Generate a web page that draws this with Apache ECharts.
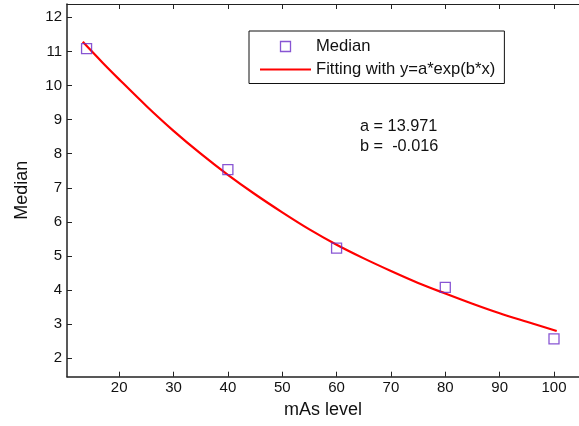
<!DOCTYPE html>
<html>
<head>
<meta charset="utf-8">
<script src="https://cdn.jsdelivr.net/npm/echarts@6/dist/echarts.min.js"></script>
<style>
html,body{margin:0;padding:0;background:#fff;}
#chart{width:579px;height:426px;}
</style>
</head>
<body>
<div id="chart"></div>
<script>
// Data
var medianX = [14, 40, 60, 80, 100];
var medianY = [11.08, 7.53, 5.23, 4.08, 2.57];
var fitX = [13.3, 17, 20, 25, 30, 35, 40, 45, 50, 55, 60, 65, 70, 75, 80, 85, 90, 95, 100.5];
var fitY = [11.28, 10.66, 10.18, 9.40, 8.67, 8.00, 7.38, 6.81, 6.28, 5.78, 5.33, 4.93, 4.56, 4.21, 3.90, 3.60, 3.32, 3.07, 2.80];
var xTicks = [20, 30, 40, 50, 60, 70, 80, 90, 100];
var yTicks = [2, 3, 4, 5, 6, 7, 8, 9, 10, 11, 12];
var seriesNames = ['Median', 'Fitting with y=a*exp(b*x)'];
var xName = 'mAs level';
var yName = 'Median';
var annotation = ['a = 13.971', 'b =  -0.016'];

var FONT = '"Liberation Sans", Arial, Helvetica, sans-serif';
var purple = '#6a2bc8';

function zip(a, b) { return a.map(function (v, i) { return [v, b[i]]; }); }

var chart = echarts.init(document.getElementById('chart'), null, {renderer: 'canvas'});
var option = {
  animation: false,
  backgroundColor: '#fff',
  grid: {left: 67, top: 4, right: 0, bottom: 49.3},
  xAxis: [{
    type: 'value', min: 10.4, max: 104.6, position: 'bottom',
    name: xName, nameLocation: 'middle', nameGap: 24,
    nameTextStyle: {fontFamily: FONT, fontSize: 18, color: '#111', verticalAlign: 'top'},
    axisLine: {show: true, onZero: false, lineStyle: {color: '#222', width: 1.5}},
    axisTick: {show: true, inside: true, length: 5, customValues: xTicks, lineStyle: {color: '#222', width: 1}},
    axisLabel: {show: true, customValues: xTicks, margin: 4, fontFamily: FONT, fontSize: 15, color: '#111'},
    splitLine: {show: false}
  }, {
    type: 'value', min: 10.4, max: 104.6, position: 'top',
    axisLine: {show: true, onZero: false, lineStyle: {color: '#222', width: 1.2}},
    axisTick: {show: true, inside: true, length: 5, customValues: xTicks, lineStyle: {color: '#222', width: 1}},
    axisLabel: {show: false},
    splitLine: {show: false}
  }],
  yAxis: [{
    type: 'value', min: 1.46, max: 12.39,
    name: yName, nameLocation: 'middle', nameGap: 36, nameRotate: 90,
    nameTextStyle: {fontFamily: FONT, fontSize: 18, color: '#111'},
    axisLine: {show: true, onZero: false, lineStyle: {color: '#222', width: 1.5}},
    axisTick: {show: true, inside: true, length: 5, customValues: yTicks, lineStyle: {color: '#222', width: 1}},
    axisLabel: {show: true, customValues: yTicks, margin: 5, fontFamily: FONT, fontSize: 15, color: '#111'},
    splitLine: {show: false}
  }],
  legend: {
    orient: 'vertical',
    left: 249, top: 31,
    padding: [6.5, 9, 5, 11],
    itemGap: 5,
    itemWidth: 51, itemHeight: 10,
    borderColor: '#111', borderWidth: 1,
    backgroundColor: '#fff',
    textStyle: {fontFamily: FONT, fontSize: 16.6, color: '#111', lineHeight: 18},
    data: [
      {name: seriesNames[0], icon: 'path://M0,0H10V10H0Z',
       itemStyle: {color: 'rgba(0,0,0,0)', borderColor: purple, borderWidth: 1.3}},
      {name: seriesNames[1], icon: 'path://M0,0H51V2.2H0Z',
       itemStyle: {color: '#ff0000', borderWidth: 0}}
    ]
  },
  graphic: [
    {type: 'text', left: 360, top: 119, style: {text: annotation[0], fontFamily: FONT, fontSize: 16.3, fill: '#111'}},
    {type: 'text', left: 360, top: 139, style: {text: annotation[1], fontFamily: FONT, fontSize: 16.3, fill: '#111'}}
  ],
  series: [{
    name: seriesNames[0], type: 'scatter',
    data: zip(medianX, medianY),
    symbol: 'rect', symbolSize: 10,
    itemStyle: {color: 'rgba(0,0,0,0)', borderColor: purple, borderWidth: 1.3},
    z: 3
  }, {
    name: seriesNames[1], type: 'line',
    data: zip(fitX, fitY),
    smooth: 0.3, showSymbol: false, symbol: 'none',
    lineStyle: {color: '#ff0000', width: 2.2},
    itemStyle: {color: '#ff0000'},
    z: 2
  }]
};
chart.setOption(option);
</script>
</body>
</html>
